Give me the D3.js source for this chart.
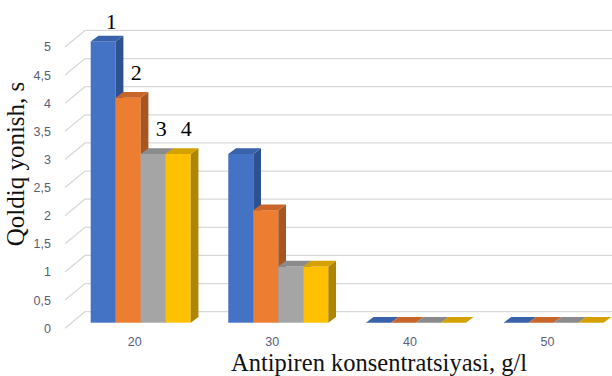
<!DOCTYPE html>
<html>
<head>
<meta charset="utf-8">
<script src="https://cdn.jsdelivr.net/npm/d3@7/dist/d3.min.js"></script>
<style>
  html, body { margin: 0; padding: 0; background: #fff; }
  svg { display: block; }
</style>
</head>
<body>
<svg id="chart" width="612" height="376"></svg>
<script>
// Residual burning time by fire-retardant concentration
const categories = ["20", "30", "40", "50"];
const seriesNames = ["1", "2", "3", "4"];
const series1 = [5, 3, 0, 0];
const series2 = [4, 2, 0, 0];
const series3 = [3, 1, 0, 0];
const series4 = [3, 1, 0, 0];
const yTicks = [0, 0.5, 1, 1.5, 2, 2.5, 3, 3.5, 4, 4.5, 5];

const seriesValues = [series1, series2, series3, series4];

// face colours: front, side, top
const palette = [
  { front: "#4472C4", side: "#2E5190", top: "#3A62AB" },
  { front: "#ED7D31", side: "#A9551F", top: "#C8652A" },
  { front: "#A5A5A5", side: "#767676", top: "#8B8B8B" },
  { front: "#FFC000", side: "#B08400", top: "#D4A100" }
];

const svg = d3.select("#chart");
const W = 612, H = 376;
svg.append("rect").attr("width", W).attr("height", H).attr("fill", "#fff");

// 3D layout: floor front edge, bar front plane, back wall
const frontBase = 328.2, barBase = 322.7, backBase = 311.7;
const wallFrontX = 65, wallBackX = 85;
const barDx = 7.7, barDy = 5.7;

const h = d3.scaleLinear().domain([0, 5]).range([0, 281.3]);
const yFront = d3.scaleLinear().domain([0, 5]).range([frontBase, frontBase - 281.3]);

const x = d3.scaleBand()
  .domain(categories)
  .range([71.9, 71.9 + 4 * 137.6])
  .paddingInner(0.273)
  .paddingOuter(0.1365);

const xs = d3.scaleBand()
  .domain(d3.range(seriesNames.length))
  .range([0, x.bandwidth()]);

// gridlines: side-wall diagonal plus back-wall horizontal
const grid = svg.append("g").attr("stroke", "#d9d9d9").attr("stroke-width", 1.3).attr("fill", "none");
yTicks.forEach(v => {
  const yb = backBase - h(v);
  grid.append("path")
    .attr("d", `M${wallFrontX},${yFront(v)}L${wallBackX},${yb}L${W},${yb}`);
});

// y tick labels
const comma = d3.formatLocale({ decimal: ",", thousands: " ", grouping: [3], currency: ["", ""] });
const yAxis = d3.axisLeft(yFront)
  .tickValues(yTicks)
  .tickSize(0)
  .tickPadding(0)
  .tickFormat(comma.format("~g"));
const gy = svg.append("g").attr("transform", "translate(51,0)").call(yAxis);
gy.select(".domain").remove();
gy.selectAll("text")
  .attr("font-family", "Liberation Sans, Arial, sans-serif")
  .attr("font-size", 12.5)
  .attr("fill", "#56607A");

// bars
const bars = svg.append("g");
categories.forEach((c, ci) => {
  seriesValues.forEach((vals, si) => {
    const v = vals[ci];
    const x0 = x(c) + xs(si);
    const w = xs.bandwidth();
    const yt = barBase - h(v);
    const col = palette[si];
    const g = bars.append("g");
    if (v > 0) {
      g.append("rect")
        .attr("x", x0).attr("y", yt)
        .attr("width", w).attr("height", barBase - yt)
        .attr("fill", col.front);
      g.append("path")
        .attr("d", `M${x0 + w},${yt}L${x0 + w + barDx},${yt - barDy}L${x0 + w + barDx},${barBase - barDy}L${x0 + w},${barBase}Z`)
        .attr("fill", col.side);
    }
    g.append("path")
      .attr("d", `M${x0},${yt}L${x0 + w},${yt}L${x0 + w + barDx},${yt - barDy}L${x0 + barDx},${yt - barDy}Z`)
      .attr("fill", col.top);
  });
});

// series numbers above the first group
const labelLift = [12, 18, 17.5, 17.5];
const firstCat = categories[0];
seriesValues.forEach((vals, si) => {
  svg.append("text")
    .attr("x", x(firstCat) + xs(si) + xs.bandwidth() / 2 + 8)
    .attr("y", barBase - h(vals[0]) - labelLift[si])
    .attr("text-anchor", "middle")
    .attr("font-family", "Liberation Serif, Times New Roman, serif")
    .attr("font-size", 22)
    .attr("fill", "#000")
    .text(seriesNames[si]);
});

// category axis
const xAxis = d3.axisBottom(x).tickSize(0).tickPadding(0);
const gx = svg.append("g").attr("transform", "translate(-6,337)").call(xAxis);
gx.select(".domain").remove();
gx.selectAll("text")
  .attr("font-family", "Liberation Sans, Arial, sans-serif")
  .attr("font-size", 12.5)
  .attr("fill", "#56607A");

// axis titles
svg.append("text")
  .attr("x", 379).attr("y", 370.5)
  .attr("text-anchor", "middle")
  .attr("font-family", "Liberation Serif, Times New Roman, serif")
  .attr("font-size", 24.5)
  .attr("fill", "#111")
  .text("Antipiren konsentratsiyasi, g/l");

svg.append("text")
  .attr("transform", "translate(24,164) rotate(-90)")
  .attr("text-anchor", "middle")
  .attr("font-family", "Liberation Serif, Times New Roman, serif")
  .attr("font-size", 25)
  .attr("fill", "#111")
  .text("Qoldiq yonish, s");
</script>
</body>
</html>
